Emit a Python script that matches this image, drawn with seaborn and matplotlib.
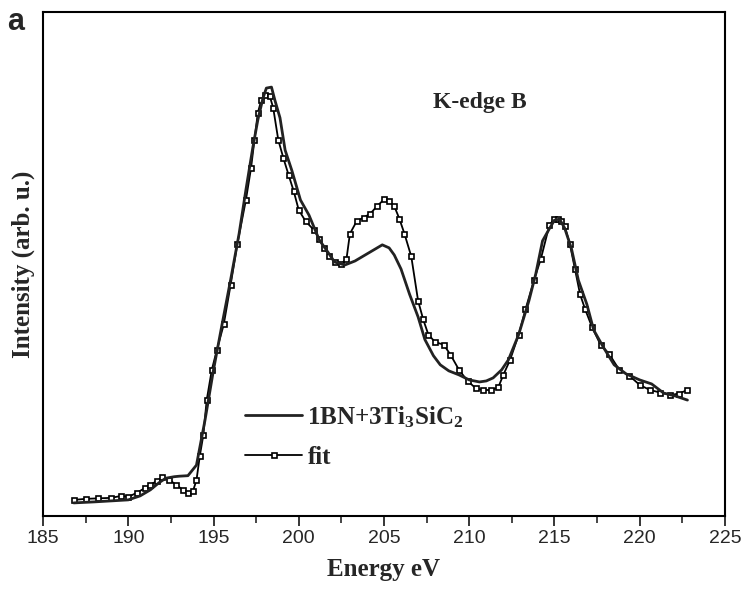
import matplotlib
matplotlib.use("Agg")
import matplotlib.pyplot as plt
import seaborn as sns
import numpy as np
import pandas as pd
from matplotlib.ticker import MultipleLocator

# Data (intensity in arbitrary units, 0..1 of plot height)
energy_exp = [186.8, 188.0, 189.0, 190.0, 190.7, 191.3, 191.8, 192.2, 192.7, 193.0, 193.5,
              194.0, 194.5, 195.0, 195.5, 196.0, 196.5, 196.9, 197.3, 197.6, 197.9, 198.1,
              198.4, 198.6, 198.9, 199.2, 199.6, 200.1, 200.6, 201.2, 201.7, 202.1, 202.7,
              203.3, 203.9, 204.4, 204.9, 205.3, 205.6, 206.0, 206.5, 207.0, 207.4, 207.9,
              208.3, 208.8, 209.4, 210.0, 210.6, 211.0, 211.4, 211.9, 212.3, 212.9, 213.5,
              213.9, 214.3, 214.7, 215.0, 215.3, 215.6, 216.0, 216.4, 216.9, 217.3, 217.9,
              218.5, 219.2, 220.0, 220.7, 221.4, 222.1, 222.8]
intensity_exp = [0.026, 0.028, 0.030, 0.032, 0.040, 0.052, 0.066, 0.075, 0.078, 0.079, 0.080,
                 0.101, 0.190, 0.290, 0.380, 0.468, 0.560, 0.647, 0.730, 0.786, 0.829, 0.849,
                 0.851, 0.825, 0.790, 0.726, 0.685, 0.627, 0.597, 0.548, 0.524, 0.504, 0.498,
                 0.506, 0.518, 0.528, 0.538, 0.532, 0.518, 0.490, 0.440, 0.395, 0.350, 0.318,
                 0.300, 0.288, 0.280, 0.270, 0.266, 0.268, 0.274, 0.290, 0.310, 0.360, 0.427,
                 0.480, 0.546, 0.570, 0.587, 0.589, 0.571, 0.530, 0.468, 0.420, 0.369, 0.333,
                 0.300, 0.282, 0.270, 0.262, 0.244, 0.238, 0.230]

energy_fit = [186.8, 187.5, 188.2, 189.0, 189.6, 190.0, 190.5, 191.0, 191.3, 191.7, 192.0,
              192.4, 192.8, 193.2, 193.5, 193.8, 194.0, 194.2, 194.4, 194.6, 194.9, 195.2,
              195.6, 196.0, 196.4, 196.9, 197.2, 197.4, 197.6, 197.8, 198.0, 198.3, 198.5,
              198.8, 199.1, 199.4, 199.7, 200.0, 200.4, 200.9, 201.2, 201.5, 201.8, 202.1,
              202.5, 202.8, 203.0, 203.4, 203.8, 204.2, 204.6, 205.0, 205.3, 205.6, 205.9,
              206.2, 206.6, 207.0, 207.3, 207.6, 208.0, 208.5, 208.9, 209.4, 209.9, 210.4,
              210.8, 211.3, 211.7, 212.0, 212.4, 212.9, 213.3, 213.8, 214.2, 214.7, 215.0,
              215.2, 215.4, 215.6, 215.9, 216.2, 216.5, 216.8, 217.2, 217.7, 218.2, 218.8,
              219.4, 220.0, 220.6, 221.2, 221.8, 222.3, 222.8]
intensity_fit = [0.032, 0.034, 0.035, 0.036, 0.040, 0.038, 0.046, 0.056, 0.062, 0.070, 0.077,
                 0.072, 0.062, 0.052, 0.045, 0.050, 0.071, 0.120, 0.160, 0.230, 0.290, 0.330,
                 0.380, 0.458, 0.540, 0.627, 0.690, 0.746, 0.800, 0.825, 0.835, 0.833, 0.810,
                 0.746, 0.710, 0.677, 0.645, 0.607, 0.585, 0.567, 0.550, 0.532, 0.515, 0.504,
                 0.500, 0.510, 0.560, 0.585, 0.592, 0.600, 0.615, 0.628, 0.625, 0.615, 0.590,
                 0.560, 0.515, 0.427, 0.390, 0.360, 0.345, 0.340, 0.320, 0.290, 0.268, 0.253,
                 0.250, 0.250, 0.255, 0.280, 0.310, 0.360, 0.410, 0.468, 0.510, 0.577, 0.590,
                 0.590, 0.585, 0.575, 0.540, 0.490, 0.440, 0.410, 0.375, 0.340, 0.322, 0.290,
                 0.278, 0.260, 0.250, 0.245, 0.240, 0.243, 0.250]

df_exp = pd.DataFrame({"E": energy_exp, "I": intensity_exp})
df_fit = pd.DataFrame({"E": energy_fit, "I": intensity_fit})

sns.set_style("white")
plt.rcParams["font.family"] = ["Liberation Sans", "DejaVu Sans"]
plt.rcParams["mathtext.fontset"] = "custom"
plt.rcParams["mathtext.rm"] = "Liberation Serif:bold"
plt.rcParams["mathtext.it"] = "Liberation Serif:bold"
plt.rcParams["mathtext.bf"] = "Liberation Serif:bold"

fig = plt.figure(figsize=(7.47, 5.94), dpi=100)
ax = fig.add_axes([0.0576, 0.1313, 0.9129, 0.8485])

sns.lineplot(data=df_fit, x="E", y="I", ax=ax, color="black", lw=1.3,
             marker="s", markersize=3.6, markerfacecolor="white", markeredgecolor="black",
             markeredgewidth=1.2, label="fit", sort=False)
sns.lineplot(data=df_exp, x="E", y="I", ax=ax, color="#222222", lw=2.0,
             label="1BN+3Ti$_3$SiC$_2$", sort=False)

ax.set_xlim(185, 225)
ax.set_ylim(0, 1)
ax.xaxis.set_major_locator(MultipleLocator(5))
ax.xaxis.set_minor_locator(MultipleLocator(2.5))
ax.tick_params(axis="x", which="major", direction="out", length=7, width=1.3,
               labelsize=14, bottom=True, pad=3)
ax.tick_params(axis="x", which="minor", direction="out", length=5, width=1.2, bottom=True)
ax.set_yticks([])
for sp in ax.spines.values():
    sp.set_color("black")
    sp.set_linewidth(1.5)

serif = dict(family=["Liberation Serif", "DejaVu Serif"], weight="bold")
ax.set_xlabel("Energy eV", fontsize=18, labelpad=8, **serif)
ax.set_ylabel("Intensity (arb. u.)", fontsize=18, labelpad=6, **serif)
ax.text(0.572, 0.81, "K-edge B", transform=ax.transAxes, fontsize=17, **serif)
fig.text(0.010, 0.950, "a", fontsize=22, weight="bold", family=["Liberation Sans", "DejaVu Sans"])

handles, labels = ax.get_legend_handles_labels()
leg = ax.legend(handles[::-1], labels[::-1], loc="center left", bbox_to_anchor=(0.296, 0.158),
                frameon=False, prop=dict(family=["Liberation Serif"], weight="bold", size=18),
                handlelength=2.3, labelspacing=0.65, handletextpad=0.2,
                borderaxespad=0, borderpad=0)

fig.savefig("out.png", dpi=100)
